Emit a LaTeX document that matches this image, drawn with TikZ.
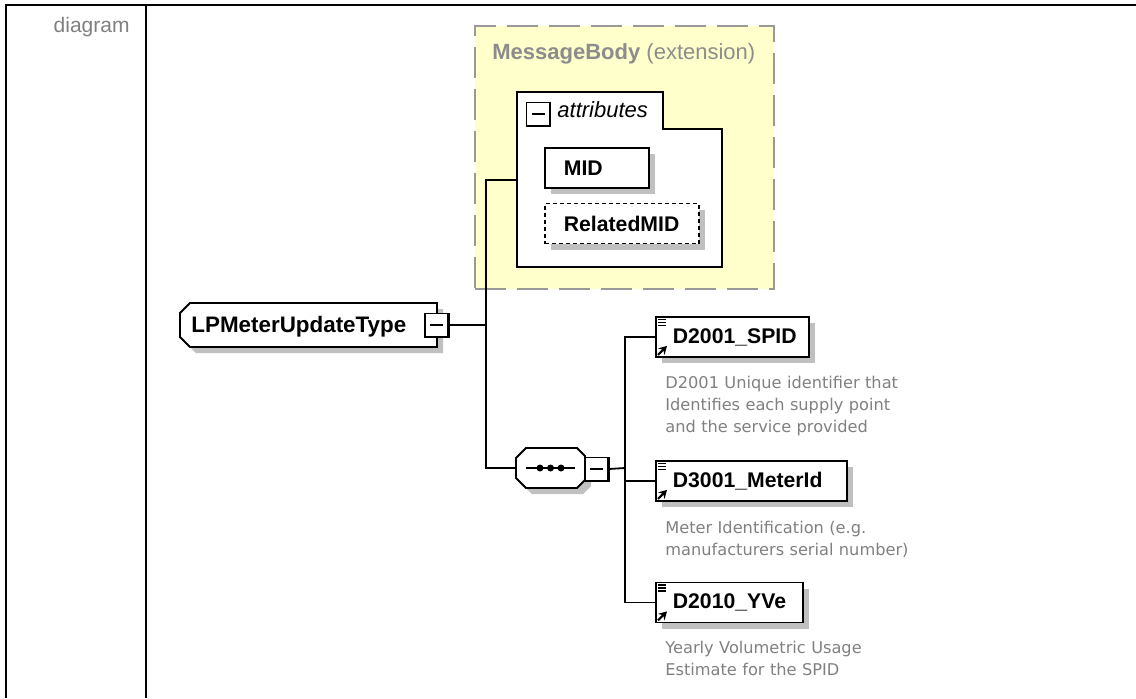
\documentclass[tikz,border=0pt]{standalone}
\usepackage{fontspec}
\setmainfont{Liberation Sans}
\newfontfamily\docfont{DejaVu Sans}
\usetikzlibrary{arrows.meta, shadows}
\definecolor{bodyfill}  {RGB}{255, 255, 204}
\definecolor{bodyline}  {RGB}{153, 153, 153}
\definecolor{captext}   {RGB}{140, 140, 140}
\definecolor{doctext}   {RGB}{128, 128, 128}
\definecolor{shadowgray}{RGB}{192, 192, 192}

\begin{document}
\begin{tikzpicture}[x=0.5pt, y=-0.5pt,
  conn/.style={line width=0.9pt},
  elem/.style={draw, fill=white, line width=0.9pt, anchor=west, minimum height=20pt,
    inner xsep=8.5pt, inner ysep=0pt, align=left,
    font=\fontsize{10.6}{12}\selectfont\bfseries,
    drop shadow={shadow xshift=3pt, shadow yshift=-3pt, fill=shadowgray, opacity=1}},
  minusbox/.style={draw, fill=white, minimum size=11.5pt, inner sep=0pt, line width=0.6pt,
    path picture={\draw[line width=0.7pt] ([xshift=2.5pt]path picture bounding box.west)
      -- ([xshift=-2.5pt]path picture bounding box.east);}},
  doc/.style={anchor=base west, text width=140pt, align=left, inner sep=0pt,
    text=doctext, font=\docfont\fontsize{8.1}{11}\selectfont}]
  \useasboundingbox (0,0) rectangle (1136,698);
  % table frame
  \draw[line width=1pt] (6,698) -- (6,4.5) -- (1136,4.5);
  \draw[line width=1pt] (146,4.5) -- (146,698);
  \node[anchor=base east, inner sep=0pt, text=doctext, font=\fontsize{10.5}{12}\selectfont]
    (diag) at (130,32) {diagram};
  % extension base
  \node[draw=bodyline, fill=bodyfill, line width=1pt, dash pattern=on 15.5pt off 5.5pt,
    anchor=north west, minimum width=149.5pt, minimum height=131.5pt, inner sep=0pt]
    (body) at (474,25) {};
  \node[anchor=base west, inner sep=0pt, text=captext, font=\fontsize{11}{13}\selectfont]
    (bodytitle) at (492,59) {\textbf{MessageBody} (extension)};
  % attributes group
  \draw[line width=0.9pt, fill=white] (517,92) -- (663,92) -- (663,129) -- (722,129)
    -- (722,267) -- (517,267) -- cycle;
  \node[minusbox, anchor=north west] (attrminus) at (526,102) {};
  \node[anchor=base west, inner sep=0pt, font=\fontsize{11}{13}\selectfont\itshape]
    (attrtitle) at (557,117) {attributes};
  \node[elem, text width=33pt, inner xsep=9.5pt] (mid) at (544,168) {MID};
  \node[elem, text width=58pt, inner xsep=9.5pt, dash pattern=on 2pt off 1.5pt]
    (rmid) at (544,223.5) {RelatedMID};
  % complex type
  \fill[shadowgray, shift={(6,6)}] (190,303) -- (437,303) -- (437,347) -- (190,347)
    -- (180,337) -- (180,313) -- cycle;
  \draw[line width=0.9pt, fill=white] (190,303) -- (437,303) -- (437,347) -- (190,347)
    -- (180,337) -- (180,313) -- cycle;
  \node[anchor=base west, inner sep=0pt, font=\fontsize{11.2}{13}\selectfont\bfseries]
    (lpm) at (191,332) {LPMeterUpdateType};
  \node[minusbox] (lpmminus) at (436.5,325) {};
  % sequence
  \fill[shadowgray, shift={(6,6)}] (526,448) -- (577,448) -- (585,456) -- (585,480)
    -- (577,488) -- (526,488) -- (516,478) -- (516,458) -- cycle;
  \draw[line width=0.9pt, fill=white] (526,448) -- (577,448) -- (585,456) -- (585,480)
    -- (577,488) -- (526,488) -- (516,478) -- (516,458) -- cycle;
  \coordinate (seqin) at (516,468);
  \draw[line width=0.7pt] (526,468) -- (575,468);
  \foreach \dx in {540,550.5,561}
    \fill (\dx,468) circle (3.5);
  \node[minusbox] (seqminus) at (596.5,469) {};
  \foreach \m in {attrminus, lpmminus, seqminus}
    \draw[line width=1.2pt] (\m.north east) -- (\m.south east) -- (\m.south west);
  % elements
  \node[elem, text width=59.5pt] (spid) at (655,337) {D2001\_SPID};
  \node[elem, text width=78.5pt] (meter) at (655,481) {D3001\_MeterId};
  \node[elem, text width=56.5pt] (yve) at (655,602.5) {D2010\_YVe};
  \foreach \n in {spid, meter, yve} {
    \foreach \dy in {3.5,6.5,9.5}
      \draw[line width=0.7pt] ([shift={(3,\dy)}]\n.north west) -- ++(8,0);
    \draw[line width=1.1pt, -{Stealth[length=4pt, width=4.5pt]}]
      ([shift={(3,-3)}]\n.south west) -- ++(9,-9);
  }
  \node[doc] (spiddoc) at (665,388)
    {D2001 Unique identifier that\\Identifies each supply point\\and the service provided};
  \node[doc] (meterdoc) at (665,533)
    {Meter Identification (e.g.\\manufacturers serial number)};
  \node[doc] (yvedoc) at (665,653)
    {Yearly Volumetric Usage\\Estimate for the SPID};
  % connectors
  \coordinate (attrin) at (517,180);
  \coordinate (split) at (486,325);
  \coordinate (fork) at (625,468);
  \draw[conn] (lpmminus.east) -- (split);
  \draw[conn] (attrin) -| (split) |- (seqin);
  \draw[conn] (seqminus.east) -- (fork);
  \draw[conn] (spid.west) -| (fork) |- (yve.west);
  \draw[conn] (meter.west) -- (meter.west -| fork);
\end{tikzpicture}
\end{document}
